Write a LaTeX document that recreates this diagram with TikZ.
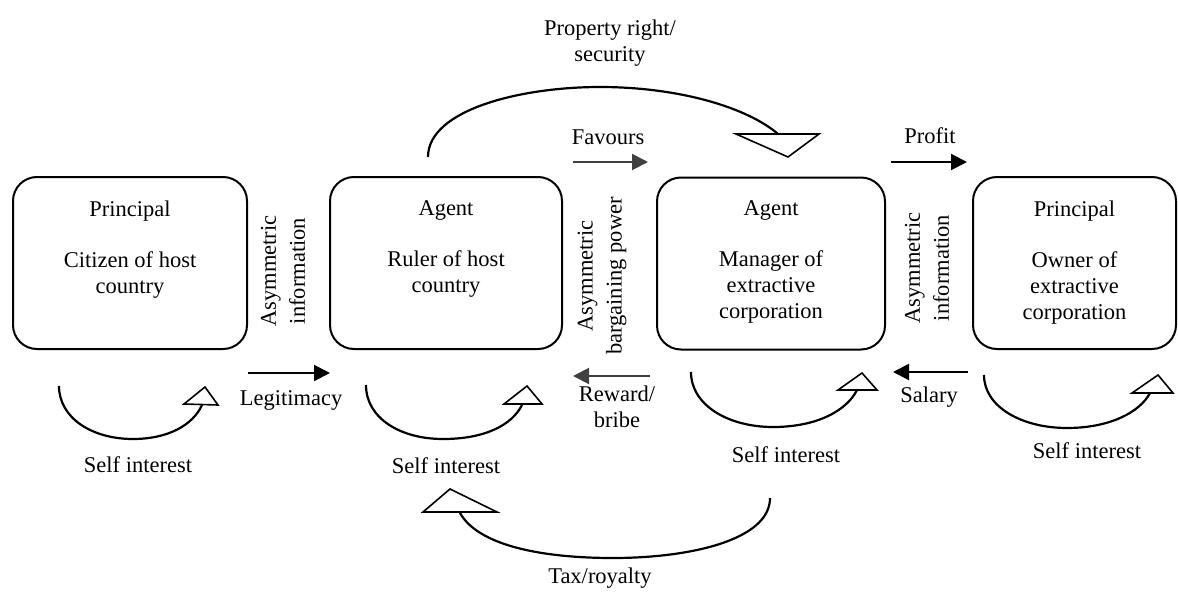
\documentclass[tikz,border=0pt]{standalone}
\usepackage{fontspec}
\setmainfont{Liberation Serif}
\usetikzlibrary{arrows.meta}
\tikzset{
	actor/.style     = {shape=rectangle, rounded corners=12pt,
		draw, line width=1pt, minimum height=86pt, inner sep=0pt},
	actortext/.style = {align=center, anchor=north, inner sep=0pt},
	flow/.style      = {draw, line width=1pt, -{Triangle[length=8pt,width=8pt]}},
	grayflow/.style  = {flow, color=darkgray},
	selfarc/.style   = {draw, line width=1.1pt},
	openhead/.style  = {draw, line width=0.8pt, fill=white, line join=miter}
}
\begin{document}
\begin{tikzpicture}
	[
	x                 = 0.5pt,
	y                 = -0.5pt,
	every node/.style = {font=\fontsize{11.25}{13}\selectfont}
	]
	\useasboundingbox (0,0) rectangle (1178,594);
	\node [actor, minimum width=117pt] (citizen) at (130,263) {};
	\node [actor, minimum width=116pt] (ruler) at (446,263) {};
	\node [actor, minimum width=114pt] (manager) at (771,263.5) {};
	\node [actor, minimum width=101.5pt] (owner) at (1074.5,263) {};
	\node [actortext] (citizentext) at ([yshift=-12pt]citizen.north)
		{Principal\\[12.5pt]Citizen of host\\country};
	\node [actortext] (rulertext) at ([yshift=-12pt]ruler.north)
		{Agent\\[12.5pt]Ruler of host\\country};
	\node [actortext] (managertext) at ([yshift=-12pt]manager.north)
		{Agent\\[12.5pt]Manager of\\extractive\\corporation};
	\node [actortext] (ownertext) at ([yshift=-12pt]owner.north)
		{Principal\\[12.5pt]Owner of\\extractive\\corporation};
	\node [rotate=90, align=center] (infoleft) at (283,271) {Asymmetric\\[1.5pt]information};
	\node [rotate=90, align=center] (power) at (602,276) {Asymmetric\\[1.5pt]bargaining power};
	\node [rotate=90, align=center] (inforight) at (927,268) {Asymmetric\\[1.5pt]information};
	\coordinate (legitstart) at (248,373);
	\coordinate (legitend) at (330,373);
	\coordinate (favourstart) at (573,162);
	\coordinate (favourend) at (648,162);
	\coordinate (rewardstart) at (650,376);
	\coordinate (rewardend) at (573,376);
	\coordinate (profitstart) at (891,162);
	\coordinate (profitend) at (967,162);
	\coordinate (salarystart) at (968,372);
	\coordinate (salaryend) at (893,372);
	\draw [flow] (legitstart) -- (legitend);
	\draw [grayflow] (favourstart) -- (favourend);
	\draw [grayflow] (rewardstart) -- (rewardend);
	\draw [flow] (profitstart) -- (profitend);
	\draw [flow] (salarystart) -- (salaryend);
	\node (legitimacy) at (291,400) {Legitimacy};
	\node (favours) at (608,137) {Favours};
	\node [align=center] (reward) at (617,407) {Reward/\\bribe};
	\node (profit) at (930,136) {Profit};
	\node (salary) at (929,397) {Salary};
	\node [align=center] (property) at (610,43) {Property right/\\security};
	\node (taxroyalty) at (600,578) {Tax/royalty};
	\node (citizenself) at (138,465) {Self interest};
	\node (rulerself) at (446,466) {Self interest};
	\node (managerself) at (786,455) {Self interest};
	\node (ownerself) at (1087,451) {Self interest};
	\draw [selfarc] (59,386) .. controls (59,418) and (92,439) .. (133,439)
		.. controls (168,439) and (193,425) .. (202,405);
	\draw [openhead] (184,404) -- (218,405) -- (205,387) -- cycle;
	\draw [selfarc] (366,385) .. controls (366,418) and (400,439) .. (443,439)
		.. controls (485,439) and (512,425) .. (522,405);
	\draw [openhead] (504,404) -- (542,404) -- (527,386) -- cycle;
	\draw [selfarc] (691,372) .. controls (691,405) and (728,427) .. (773,427)
		.. controls (818,427) and (847,410) .. (857,390);
	\draw [openhead] (838,390) -- (877,390) -- (862,373) -- cycle;
	\draw [selfarc] (984,375) .. controls (984,407) and (1022,428) .. (1067,428)
		.. controls (1110,428) and (1140,412) .. (1150,393);
	\draw [openhead] (1132,393) -- (1173,393) -- (1158,375) -- cycle;
	\draw [selfarc] (428,157) .. controls (428,110) and (520,87) .. (600,87)
		.. controls (680,87) and (748,108) .. (778,134);
	\draw [openhead] (736,134) -- (819,134) -- (788,157) -- cycle;
	\draw [selfarc] (770,498) .. controls (770,540) and (690,558) .. (613,558)
		.. controls (540,558) and (478,545) .. (460,513);
	\draw [openhead] (423,512) -- (497,512) -- (450,489) -- cycle;
\end{tikzpicture}
\end{document}
